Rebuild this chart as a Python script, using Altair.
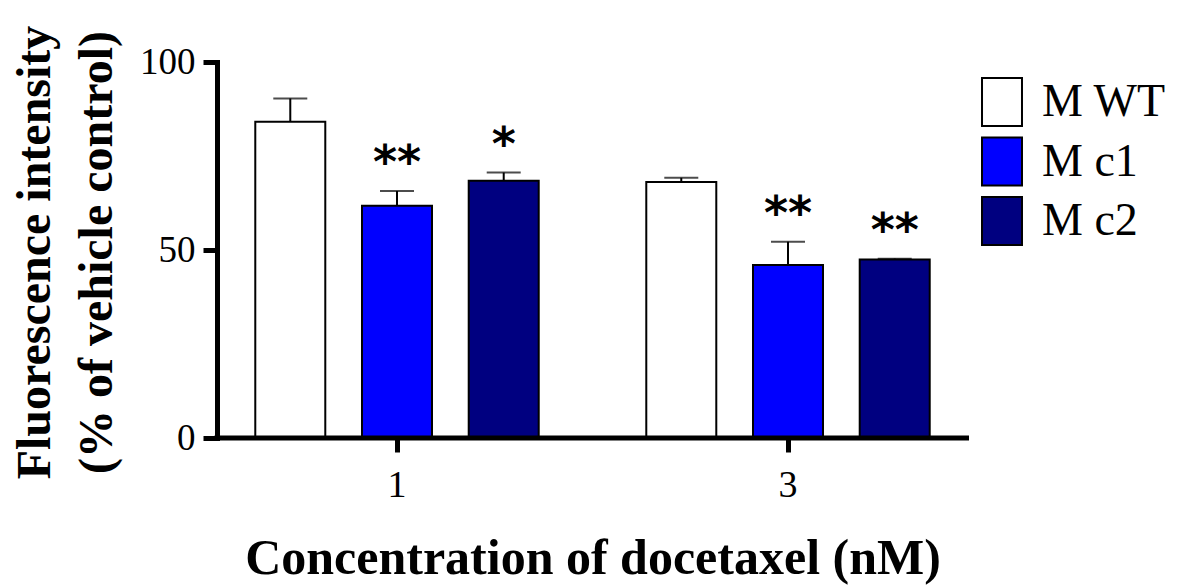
import altair as alt
import pandas as pd

# ---- data ----
concentrations = ["1", "1", "1", "3", "3", "3"]
groups = ["M WT", "M c1", "M c2", "M WT", "M c1", "M c2"]
means = [84.1, 61.8, 68.4, 68.1, 46.0, 47.5]
errors = [6.2, 3.9, 2.2, 1.1, 6.2, 0.2]
signif = ["", "**", "*", "", "**", "**"]

group_order = ["M WT", "M c1", "M c2"]
group_colors = ["#ffffff", "#0000ff", "#000080"]
y_ticks = [0, 50, 100]

df = pd.DataFrame({
    "conc": concentrations,
    "group": groups,
    "mean": means,
    "err": errors,
    "sig": signif,
})
df["upper"] = df["mean"] + df["err"]

W, H = 752, 376
SERIF = "Liberation Serif"

x_enc = alt.X(
    "conc:N",
    scale=alt.Scale(range=[-15.5, 766.5], paddingInner=0, paddingOuter=0),
    axis=alt.Axis(
        title="Concentration of docetaxel (nM)",
        domain=False,
        labelAngle=0,
        tickSize=14,
        tickWidth=5,
        tickColor="black",
        labelPadding=14,
        labelFontSize=38,
        titleFontSize=50,
        titleY=135,
        titleBaseline="alphabetic",
    ),
)
xoff_enc = alt.XOffset(
    "group:N",
    sort=group_order,
    scale=alt.Scale(domain=group_order, paddingInner=0.344, paddingOuter=0.504),
)
y_enc = alt.Y(
    "mean:Q",
    scale=alt.Scale(domain=[0, 100]),
    axis=alt.Axis(
        values=y_ticks,
        title=["Fluorescence intensity", "(% of vehicle control)"],
        grid=False,
        domainWidth=5,
        domainColor="black",
        domainCap="square",
        tickSize=14,
        tickWidth=5,
        tickColor="black",
        labelPadding=8,
        labelFontSize=37,
        titleFontSize=48,
        titleAngle=270,
        titleX=-182,
        titleY=190,
        titleAlign="center",
        titleBaseline="middle",
        titleLineHeight=62,
    ),
)

base = alt.Chart(df)

whisker = base.mark_rule(color="black", strokeWidth=2).encode(
    x=x_enc, xOffset=xoff_enc, y=y_enc, y2="upper:Q"
)
cap = base.mark_tick(color="black", thickness=2, size=34, orient="horizontal").encode(
    x=x_enc, xOffset=xoff_enc, y="upper:Q"
)
bars = base.mark_bar(stroke="black", strokeWidth=2, opacity=1).encode(
    x=x_enc,
    xOffset=xoff_enc,
    y=y_enc,
    color=alt.Color(
        "group:N",
        sort=group_order,
        scale=alt.Scale(domain=group_order, range=group_colors),
        legend=alt.Legend(
            title=None,
            orient="none",
            legendX=760,
            legendY=15,
            padding=0,
            symbolType="M-0.833,-1H0.833V1H-0.833Z",
            symbolSize=2304,
            symbolStrokeColor="black",
            symbolStrokeWidth=2,
            symbolOpacity=1,
            labelFont=SERIF,
            labelFontSize=46,
            labelColor="black",
            labelOffset=15,
            rowPadding=3.5,
            labelLimit=300,
        ),
    ),
)
stars = base.mark_text(
    font="DejaVu Sans", fontWeight="bold", fontSize=46, baseline="middle", dy=-27, color="black"
).encode(x=x_enc, xOffset=xoff_enc, y="upper:Q", text="sig:N")

axis_line = alt.Chart(pd.DataFrame({"zero": [0]})).mark_rule(
    color="black", strokeWidth=5
).encode(y=alt.Y("zero:Q"), x=alt.value(-2.5), x2=alt.value(W))

chart = (
    alt.layer(whisker, cap, bars, stars, axis_line)
    .properties(
        width=W,
        height=H,
        autosize=alt.AutoSizeParams(type="none"),
        padding={"left": 209, "top": 54, "right": 208, "bottom": 147},
        background="white",
    )
    .configure_view(stroke=None)
    .configure_axis(
        labelFont=SERIF,
        labelColor="black",
        titleFont=SERIF,
        titleFontWeight="bold",
        titleColor="black",
    )
)

chart.save("out.html", embed_options={"renderer": "svg", "actions": False})
